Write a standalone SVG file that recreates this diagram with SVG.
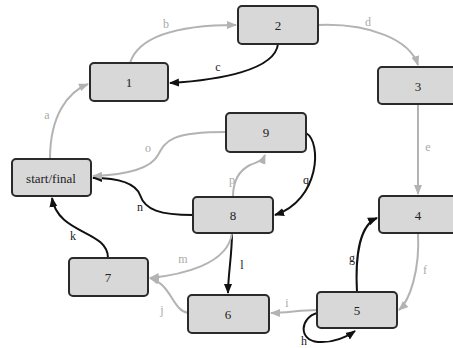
<svg xmlns="http://www.w3.org/2000/svg" width="453" height="348" viewBox="0 0 453 348">
<style>
.node rect{fill:#d8d8d8;stroke:#2a2a2a;stroke-width:2}
.node text{font-family:"Liberation Serif",serif;font-size:13px;fill:#222;text-anchor:middle;dominant-baseline:central}
.eg{fill:none;stroke:#b3b3b3;stroke-width:2;marker-end:url(#ag)}
.eb{fill:none;stroke:#111;stroke-width:2;marker-end:url(#ab)}
.lg{font-family:"Liberation Serif",serif;font-size:12px;fill:#aaa;text-anchor:middle}
.lb{font-family:"Liberation Serif",serif;font-size:12px;fill:#222;text-anchor:middle}
</style>
<defs>
<marker id="ag" markerUnits="userSpaceOnUse" markerWidth="10" markerHeight="10" viewBox="0 0 10 10" refX="9" refY="5" orient="auto"><path d="M0,1 L10,5 L0,9 Z" fill="#b3b3b3"/></marker>
<marker id="ab" markerUnits="userSpaceOnUse" markerWidth="10" markerHeight="10" viewBox="0 0 10 10" refX="9" refY="5" orient="auto"><path d="M0,1 L10,5 L0,9 Z" fill="#111"/></marker>
</defs>
<rect width="453" height="348" fill="#fff"/>
<g id="edges">
<path class="eg" d="M50,159 C50,115 68,92 88,84"/>
<path class="eg" d="M130,63 C140,32 190,25 236,25"/>
<path class="eb" d="M278,44 C275,70 220,80 170,83"/>
<path class="eg" d="M318,25 C370,23 410,40 418,65"/>
<path class="eg" d="M418,104 L418,194"/>
<path class="eg" d="M418,233 C420,270 410,300 399,310"/>
<path class="eb" d="M357,292 C355,255 360,225 377,218"/>
<path class="eb" d="M317,313 C300,318 298,340 318,342 C333,343 345,338 355,331"/>
<path class="eg" d="M317,310 C300,310 287,313 271,313"/>
<path class="eg" d="M188,313 C172,310 172,285 150,278"/>
<path class="eb" d="M108,258 C108,230 58,235 52,198"/>
<path class="eb" d="M232,233 C232,255 228,275 228,293"/>
<path class="eg" d="M232,233 C228,265 180,275 150,278"/>
<path class="eb" d="M193,215 C160,215 145,210 140,195 C135,182 115,178 93,178"/>
<path class="eg" d="M226,132 C172,132 166,140 158,155 C150,170 120,175 93,176"/>
<path class="eg" d="M233,197 C233,180 240,170 250,165 C258,162 263,160 265,155"/>
<path class="eb" d="M306,133 C322,142 320,200 275,215"/>
<text class="lg" x="47" y="119">a</text>
<text class="lg" x="166" y="28">b</text>
<text class="lb" x="218" y="71">c</text>
<text class="lg" x="368" y="26">d</text>
<text class="lg" x="428" y="151">e</text>
<text class="lg" x="425" y="274">f</text>
<text class="lb" x="352" y="262">g</text>
<text class="lb" x="304" y="345">h</text>
<text class="lg" x="287" y="307">i</text>
<text class="lg" x="162" y="314">j</text>
<text class="lb" x="73" y="240">k</text>
<text class="lb" x="242" y="269">l</text>
<text class="lg" x="183" y="263">m</text>
<text class="lb" x="140" y="211">n</text>
<text class="lg" x="148" y="152">o</text>
<text class="lg" x="232" y="184">p</text>
<text class="lb" x="306" y="184">q</text>
</g>
<g id="n1" class="node"><rect x="90" y="63" width="78" height="38" rx="4"/><text x="129" y="82">1</text></g>
<g id="n2" class="node"><rect x="238" y="6" width="80" height="38" rx="4"/><text x="278" y="25">2</text></g>
<g id="n3" class="node"><rect x="378" y="67" width="80" height="37" rx="4"/><text x="418" y="86">3</text></g>
<g id="n4" class="node"><rect x="379" y="196" width="80" height="37" rx="4"/><text x="418" y="215">4</text></g>
<g id="n9" class="node"><rect x="226" y="113" width="80" height="39" rx="4"/><text x="266" y="132">9</text></g>
<g id="start" class="node"><rect x="12" y="159" width="79" height="37" rx="4"/><text x="51" y="178">start/final</text></g>
<g id="n8" class="node"><rect x="193" y="197" width="80" height="36" rx="4"/><text x="233" y="215">8</text></g>
<g id="n7" class="node"><rect x="69" y="258" width="79" height="38" rx="4"/><text x="108" y="277">7</text></g>
<g id="n6" class="node"><rect x="188" y="295" width="81" height="38" rx="4"/><text x="228" y="314">6</text></g>
<g id="n5" class="node"><rect x="317" y="292" width="80" height="36" rx="4"/><text x="357" y="310">5</text></g>
</svg>
